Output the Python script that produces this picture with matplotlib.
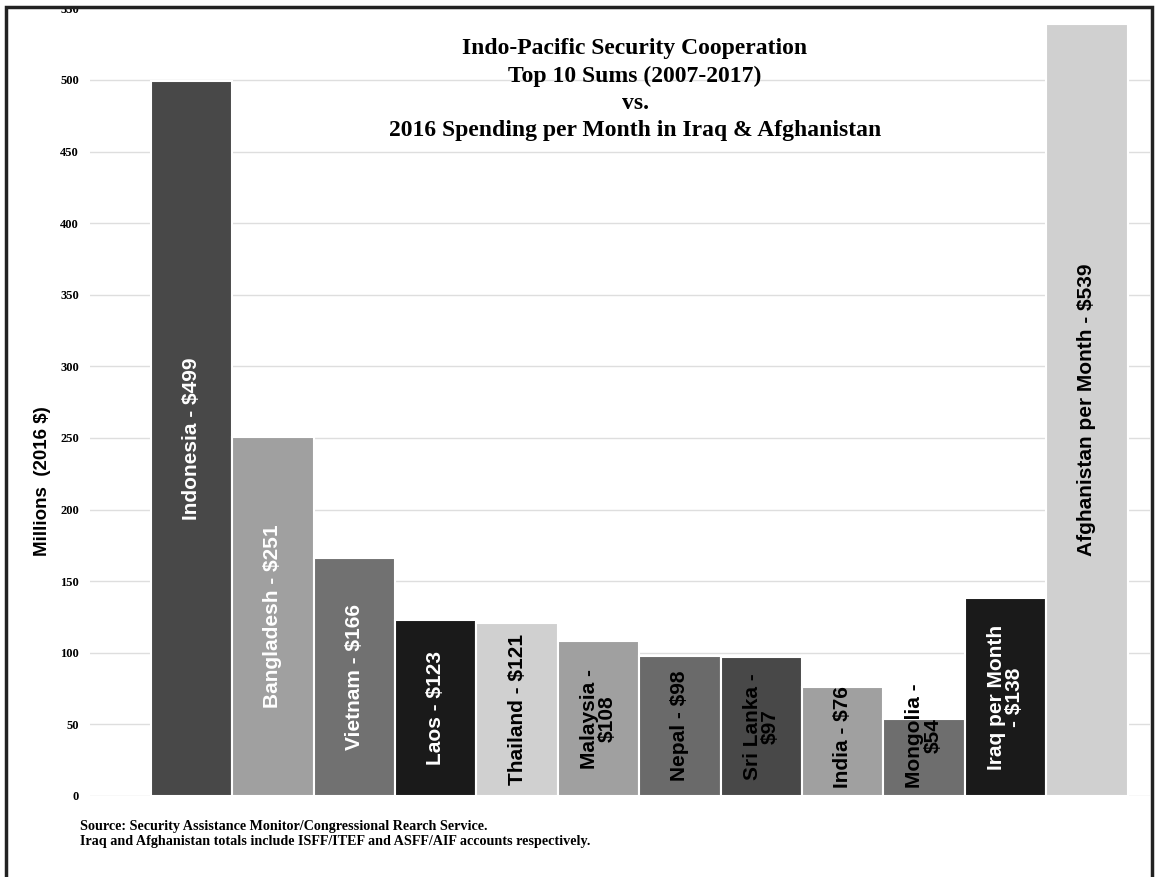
import matplotlib.pyplot as plt
from matplotlib.patches import Rectangle

# data
labels = ['Indonesia - $499', 'Bangladesh - $251', 'Vietnam - $166', 'Laos - $123',
          'Thailand - $121', 'Malaysia -\n$108', 'Nepal - $98', 'Sri Lanka -\n$97',
          'India - $76', 'Mongolia -\n$54', 'Iraq per Month\n- $138',
          'Afghanistan per Month - $539']
values = [499, 251, 166, 123, 121, 108, 98, 97, 76, 54, 138, 539]
bar_colors = ['#484848', '#a0a0a0', '#717171', '#1a1a1a', '#d0d0d0', '#a0a0a0',
              '#6a6a6a', '#484848', '#a0a0a0', '#6e6e6e', '#1a1a1a', '#d0d0d0']
text_colors = ['white', 'white', 'white', 'white', 'black', 'black',
               'black', 'black', 'black', 'black', 'white', 'black']
yticks = list(range(0, 551, 50))

fig = plt.figure(figsize=(11.55, 8.77), dpi=100)
ax = fig.add_axes([90/1155, 81/877, 1060/1155, 787.6/877])

x = list(range(len(values)))
ax.bar(x, values, width=1.0, color=bar_colors, edgecolor='white', linewidth=1.5, zorder=2)
ax.set_xlim(-1.246, 11.776)
ax.set_ylim(0, 550)
ax.set_yticks(yticks)
ax.set_yticklabels([str(t) for t in yticks], fontfamily='Liberation Serif',
                   fontweight='bold', fontsize=9)
ax.tick_params(axis='y', length=0, pad=8)
ax.set_xticks([])
ax.grid(axis='y', color='#dedede', linewidth=1, zorder=0)
ax.set_axisbelow(True)
for s in ax.spines.values():
    s.set_visible(False)

# y axis title
fig.text(43/1155, 1 - 481/877, 'Millions  (2016 $)', rotation=90, ha='center', va='center',
         fontfamily='Liberation Sans', fontweight='bold', fontsize=13.5)

# bar labels, centred in each bar, pushed up if they would hang below the axis
fig.canvas.draw()
rend = fig.canvas.get_renderer()
ax_bottom = ax.transData.transform((0, 0))[1]
for xi, v, lab, tc in zip(x, values, labels, text_colors):
    t = ax.text(xi, v / 2, lab, rotation=90, ha='center', va='center', color=tc,
                fontfamily='Liberation Sans', fontweight='bold', fontsize=15,
                linespacing=0.95, zorder=3, rotation_mode='anchor')
    bb = t.get_window_extent(rend)
    if bb.y0 < ax_bottom + 8:
        shift = ax_bottom + 8 - bb.y0
        px = ax.transData.transform((xi, v / 2))
        t.set_position(ax.transData.inverted().transform((px[0], px[1] + shift)))

fig.text(635/1155, 1 - 89.5/877,
         'Indo-Pacific Security Cooperation\nTop 10 Sums (2007-2017)\nvs.\n'
         '2016 Spending per Month in Iraq & Afghanistan',
         ha='center', va='center', fontfamily='Liberation Serif', fontweight='bold',
         fontsize=17, linespacing=1.38)

fig.text(80/1155, 1 - 820/877,
         'Source: Security Assistance Monitor/Congressional Rearch Service.\n'
         'Iraq and Afghanistan totals include ISFF/ITEF and ASFF/AIF accounts respectively.',
         ha='left', va='top', fontfamily='Liberation Serif', fontweight='bold',
         fontsize=10.2, linespacing=1.2)

# cropped frame round the figure
fig.patches.append(Rectangle((0, 1 - 7/877), 1, 7/877, transform=fig.transFigure,
                             facecolor='white', edgecolor='none', zorder=10))
fig.patches.append(Rectangle((6/1155, -0.05), 1146/1155, 1.05 - 7/877,
                             transform=fig.transFigure, fill=False,
                             edgecolor='#222222', linewidth=2.5, zorder=11))

fig.savefig('out.png', dpi=100)
